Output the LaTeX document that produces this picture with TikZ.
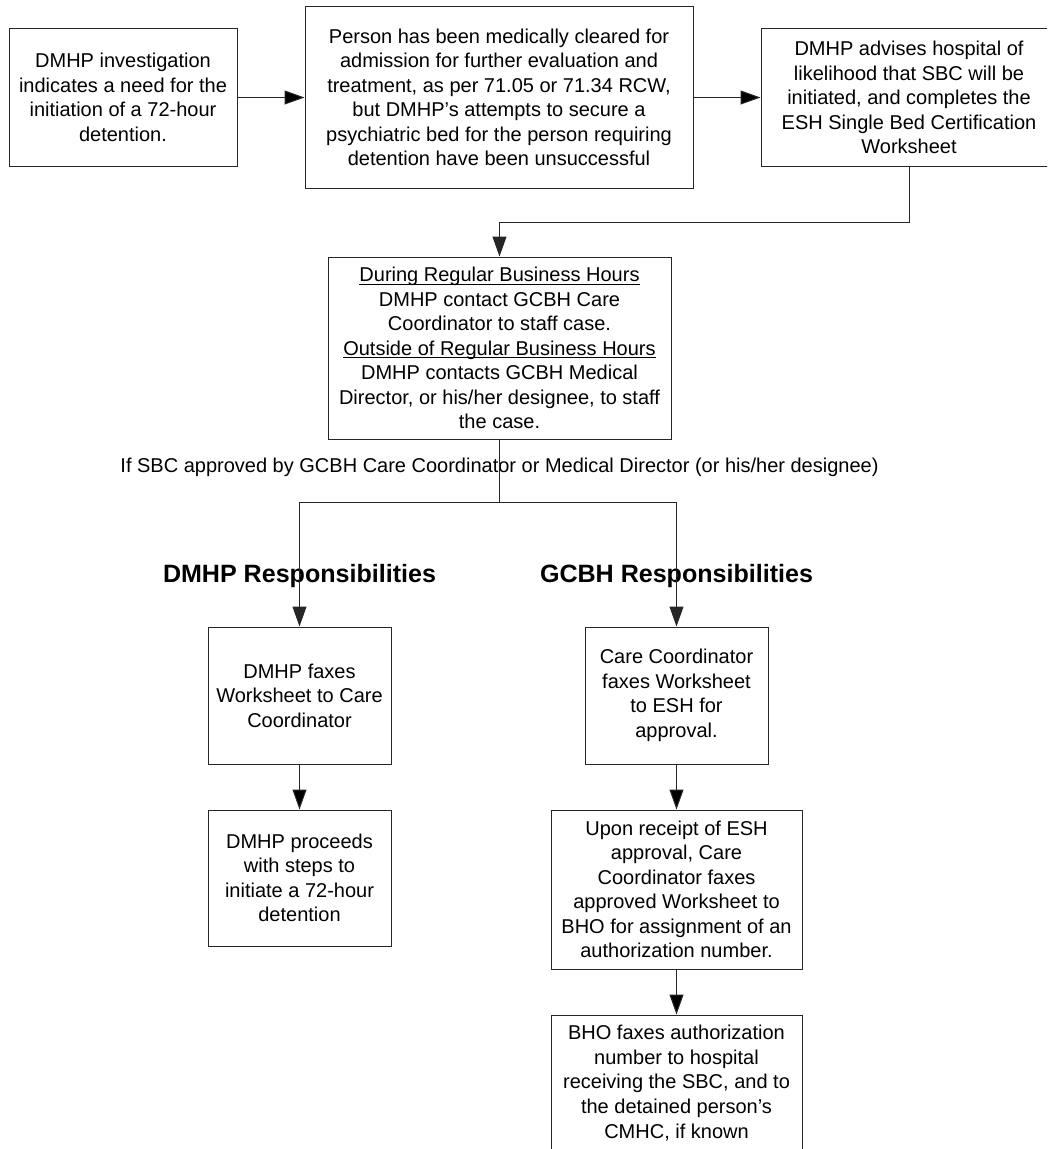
\documentclass[tikz,border=0pt]{standalone}
\usepackage{fontspec}
\setmainfont{Liberation Sans}
\usetikzlibrary{arrows.meta}
\newcommand{\ulhead}[1]{\setbox0\hbox{#1}\rlap{\rule[-2.2pt]{\wd0}{0.6pt}}\box0}

\begin{document}
\begin{tikzpicture}[x=0.75pt,y=-0.75pt,
  every node/.style={font=\fontsize{15}{18.4}\selectfont, align=center, inner sep=0pt},
  flowbox/.style 2 args={draw=black!85, line width=0.75pt, minimum width=#1*0.75pt, minimum height=#2*0.75pt},
  heading/.style={font=\fontsize{18.8}{22}\selectfont\bfseries},
  flow/.style={draw=black!85, line width=0.75pt, -{Triangle[length=15pt,width=10.5pt]}}]
  \clip (0,0) rectangle (1047,1149);
  % top row
  \node[flowbox={228}{137}] (detain) at (123,97.5)
    {DMHP investigation\\indicates a need for the\\initiation of a 72-hour\\detention.};
  \node[flowbox={388}{182}] (cleared) at (499,97.5)
    {Person has been medically cleared for\\admission for further evaluation and\\treatment, as per 71.05 or 71.34 RCW,\\but DMHP’s attempts to secure a\\psychiatric bed for the person requiring\\detention have been unsuccessful};
  \node[flowbox={296}{137}] (advise) at (909,97.5)
    {DMHP advises hospital of\\likelihood that SBC will be\\initiated, and completes the\\ESH Single Bed Certification\\Worksheet};
  \node[flowbox={343}{182}] (contact) at (499.5,348)
    {\ulhead{During Regular Business Hours}\\DMHP contact GCBH Care\\Coordinator to staff case.\\\ulhead{Outside of Regular Business Hours}\\DMHP contacts GCBH Medical\\Director, or his/her designee, to staff\\the case.};
  \node (approved) at (499.5,467)
    {If SBC approved by GCBH Care Coordinator or Medical Director (or his/her designee)};
  \coordinate (split) at (499.5,502);
  % the two columns
  \node[heading] (dmhphead) at (299.5,576) {DMHP Responsibilities};
  \node[heading] (gcbhhead) at (676.5,576) {GCBH Responsibilities};
  \node[flowbox={183}{137}] (dfax) at (299.5,695.5)
    {DMHP faxes\\Worksheet to Care\\Coordinator};
  \node[flowbox={183}{136}] (proceed) at (299.5,878)
    {DMHP proceeds\\with steps to\\initiate a 72-hour\\detention};
  \node[flowbox={183}{137}] (cfax) at (676.5,695.5)
    {Care Coordinator\\faxes Worksheet\\to ESH for\\approval.};
  \node[flowbox={251}{159}] (esh) at (676.5,889.5)
    {Upon receipt of ESH\\approval, Care\\Coordinator faxes\\approved Worksheet to\\BHO for assignment of an\\authorization number.};
  \node[flowbox={251}{136}] (bho) at (676.5,1083)
    {BHO faxes authorization\\number to hospital\\receiving the SBC, and to\\the detained person’s\\CMHC, if known};
  % connectors
  \path[flow] (detain) edge (cleared) (cleared) edge (advise);
  \draw[flow] (advise.south) -- ++(0,56) -| (contact.north);
  \draw[draw=black!85, line width=0.75pt] (contact.south) -- (split);
  \draw[flow] (split) -| (dfax.north);
  \draw[flow] (split) -| (cfax.north);
  \path[flow] (dfax) edge (proceed) (cfax) edge (esh) (esh) edge (bho);
\end{tikzpicture}
\end{document}
